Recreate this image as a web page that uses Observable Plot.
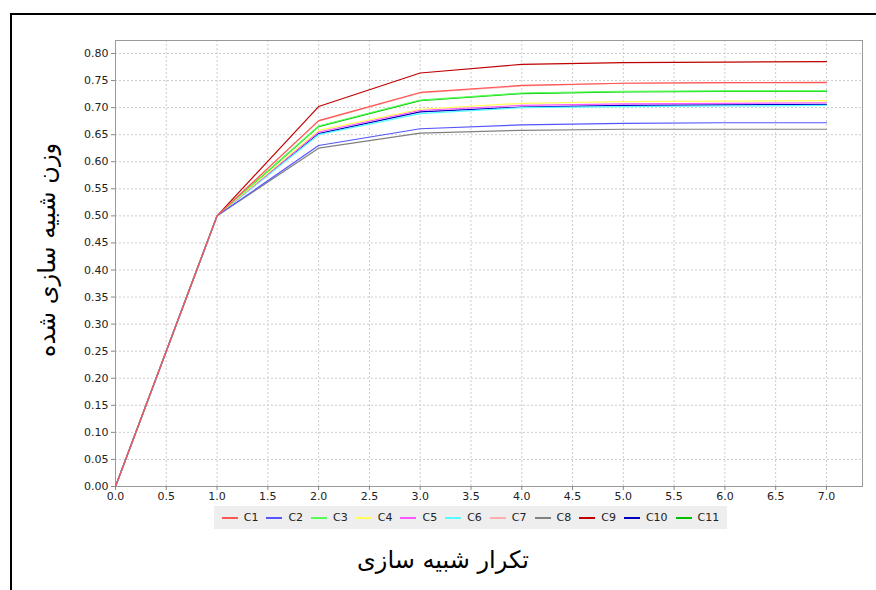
<!DOCTYPE html>
<html>
<head>
<meta charset="utf-8">
<script src="https://cdn.jsdelivr.net/npm/d3@7"></script>
<script src="https://cdn.jsdelivr.net/npm/@observablehq/plot@0.6"></script>
<style>
  html, body { margin: 0; padding: 0; background: #fff; overflow: hidden; }
  #wrap { position: relative; width: 876px; height: 590px; font-family: "DejaVu Sans", sans-serif; }
  #border { position: absolute; left: 10px; top: 13px; width: 900px; height: 620px; border-left: 2px solid #000; border-top: 2px solid #000; box-sizing: border-box; }
  #legend { position: absolute; left: 214px; top: 506px; width: 513px; height: 23px; background: #eeeeee; display: flex; align-items: center; justify-content: center; font-size: 11px; color: #222; }
  .item { display: flex; align-items: center; margin: 0 4px; }
  .sw { display: inline-block; width: 16px; height: 2px; margin-right: 6px; }
  #xtitle { position: absolute; left: 0; width: 886px; top: 546px; text-align: center; font-size: 24px; direction: rtl; }
  #ytitle { position: absolute; left: 47px; top: 250px; transform: translate(-50%, -50%) rotate(-90deg); font-size: 24px; white-space: nowrap; direction: rtl; }
  svg { position: absolute; left: 0; top: 0; }
</style>
</head>
<body>
<div id="wrap">
  <div id="border"></div>
  <div id="chart"></div>
  <div id="legend"></div>
  <div id="xtitle">تکرار شبیه سازی</div>
  <div id="ytitle">وزن شبیه سازی شده</div>
</div>
<script>
const seriesNames = ["C1","C2","C3","C4","C5","C6","C7","C8","C9","C10","C11"];
const iterations = [0,1,2,3,4,5,6,7];
const C1  = [0,0.5,0.676,0.728,0.741,0.745,0.746,0.746];
const C2  = [0,0.5,0.630,0.661,0.668,0.671,0.672,0.672];
const C3  = [0,0.5,0.666,0.714,0.727,0.730,0.731,0.731];
const C4  = [0,0.5,0.658,0.697,0.708,0.711,0.712,0.713];
const C5  = [0,0.5,0.655,0.695,0.704,0.707,0.708,0.709];
const C6  = [0,0.5,0.650,0.689,0.700,0.702,0.703,0.704];
const C7  = [0,0.5,0.675,0.727,0.740,0.745,0.746,0.747];
const C8  = [0,0.5,0.625,0.653,0.658,0.660,0.660,0.660];
const C9  = [0,0.5,0.702,0.764,0.780,0.783,0.784,0.785];
const C10 = [0,0.5,0.652,0.692,0.701,0.704,0.705,0.706];
const C11 = [0,0.5,0.665,0.713,0.726,0.729,0.730,0.730];
const seriesColors = ["#ff5555","#5555ff","#55ff55","#ffff55","#ff55ff","#55ffff","#ffafaf","#808080","#c00000","#0000c0","#00c000"];
const yTicks = ["0.00","0.05","0.10","0.15","0.20","0.25","0.30","0.35","0.40","0.45","0.50","0.55","0.60","0.65","0.70","0.75","0.80"];
const xTicks = ["0.0","0.5","1.0","1.5","2.0","2.5","3.0","3.5","4.0","4.5","5.0","5.5","6.0","6.5","7.0"];

const allSeries = [C1,C2,C3,C4,C5,C6,C7,C8,C9,C10,C11];
// draw in reverse order so C1 ends on top
const data = [];
for (let i = allSeries.length - 1; i >= 0; i--) {
  allSeries[i].forEach((v, j) => data.push({series: seriesNames[i], x: iterations[j], y: v}));
}

const yt = yTicks.map(Number), xt = xTicks.map(Number);

const plot = Plot.plot({
  width: 876,
  height: 590,
  marginLeft: 115,
  marginRight: 14,
  marginTop: 40,
  marginBottom: 104,
  style: {fontFamily: "DejaVu Sans, sans-serif", fontSize: "11px", color: "#222", background: "transparent"},
  x: {domain: [0, 7.355]},
  y: {domain: [0, 0.824]},
  color: {domain: seriesNames, range: seriesColors},
  marks: [
    Plot.gridX(xt, {stroke: "#cccccc", strokeOpacity: 1, strokeDasharray: "2,2"}),
    Plot.gridY(yt, {stroke: "#cccccc", strokeOpacity: 1, strokeDasharray: "2,2"}),
    Plot.frame({stroke: "#9a9a9a"}),
    Plot.axisY(yt, {tickFormat: (d, i) => yTicks[i], tickSize: 4, tickPadding: 3, label: null, fontSize: 11, stroke: "#888"}),
    Plot.axisX(xt, {tickFormat: (d, i) => xTicks[i], tickSize: 4, tickPadding: 2, label: null, fontSize: 11, stroke: "#888"}),
    Plot.line(data, {x: "x", y: "y", z: "series", stroke: "series", strokeWidth: 1.2, sort: null})
  ]
});
document.getElementById("chart").appendChild(plot);

const legend = document.getElementById("legend");
seriesNames.forEach((name, i) => {
  const it = document.createElement("div");
  it.className = "item";
  const sw = document.createElement("span");
  sw.className = "sw";
  sw.style.background = seriesColors[i];
  const lb = document.createElement("span");
  lb.textContent = name;
  it.appendChild(sw); it.appendChild(lb);
  legend.appendChild(it);
});
</script>
</body>
</html>
